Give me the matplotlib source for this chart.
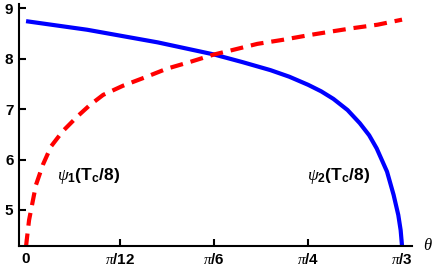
import numpy as np
import matplotlib
matplotlib.use("Agg")
import matplotlib.pyplot as plt

plt.rcParams['font.family'] = ['Liberation Sans', 'DejaVu Sans']
plt.rcParams['mathtext.fontset'] = 'custom'
plt.rcParams['mathtext.it'] = 'Liberation Serif:italic'
plt.rcParams['mathtext.rm'] = 'Liberation Sans:bold'
plt.rcParams['mathtext.bf'] = 'Liberation Sans:bold'

# theta in units of pi/12
theta1 = np.array([0.0, 0.01, 0.032, 0.074, 0.106, 0.18, 0.266, 0.39, 0.55,
                   0.68, 0.82, 1.03, 1.27, 1.5, 1.74, 2.0, 2.2, 2.46, 2.73,
                   3.0, 3.23, 3.47, 3.74, 4.0])
psi1 = np.array([4.28, 4.45, 4.8, 5.2, 5.5, 5.9, 6.26, 6.56, 6.86,
                 7.08, 7.28, 7.46, 7.63, 7.8, 7.93, 8.08, 8.17, 8.29, 8.37,
                 8.46, 8.53, 8.6, 8.67, 8.77])

theta2 = np.array([0.0, 0.65, 1.4, 2.0, 2.3, 2.6, 2.8, 3.0, 3.14, 3.27,
                   3.42, 3.55, 3.65, 3.73, 3.84, 3.91, 3.96, 3.985, 4.0])
psi2 = np.array([8.74, 8.57, 8.32, 8.08, 7.93, 7.77, 7.64, 7.48, 7.35, 7.2,
                 6.98, 6.72, 6.48, 6.22, 5.76, 5.3, 4.9, 4.6, 4.28])

xticks = [0, 1, 2, 3, 4]
xtick_labels = ['0', r'$\pi$/12', r'$\pi$/6', r'$\pi$/4', r'$\pi$/3']
yticks = [5, 6, 7, 8, 9]

unit = np.pi / 12

fig = plt.figure(figsize=(4.36, 2.70), dpi=100)
ax = fig.add_axes([0.0436, 0.0889, 0.9014, 0.8963])

ax.plot(theta2 * unit, psi2, color='#0000ff', lw=3, solid_capstyle='butt')
ax.plot(theta1 * unit, psi1, color='#ff0000', lw=3, dashes=(3.1, 1.9))

ax.text(0.33 * unit, 5.67, r'$\psi_\mathbf{1}$(T$_\mathbf{c}$/8)',
        fontsize=12.5, fontweight='bold', ha='left', va='center')
ax.text(2.99 * unit, 5.67, r'$\psi_\mathbf{2}$(T$_\mathbf{c}$/8)',
        fontsize=12.5, fontweight='bold', ha='left', va='center')

ax.set_xlim(-0.075 * unit, 4.106 * unit)
ax.set_ylim(4.287, 9.08)
ax.set_xticks([t * unit for t in xticks])
ax.set_xticklabels(xtick_labels)
ax.set_yticks(yticks)

for s in ['top', 'right']:
    ax.spines[s].set_visible(False)
for s in ['left', 'bottom']:
    ax.spines[s].set_linewidth(1.5)
ax.tick_params(direction='in', length=5, width=1.5, labelsize=11, pad=4)
for lab in ax.get_xticklabels() + ax.get_yticklabels():
    lab.set_fontweight('bold')

fig.text(428 / 436, 1 - 245 / 270, r'$\theta$', fontsize=12,
         ha='center', va='center')

fig.savefig('out.png', dpi=100)
